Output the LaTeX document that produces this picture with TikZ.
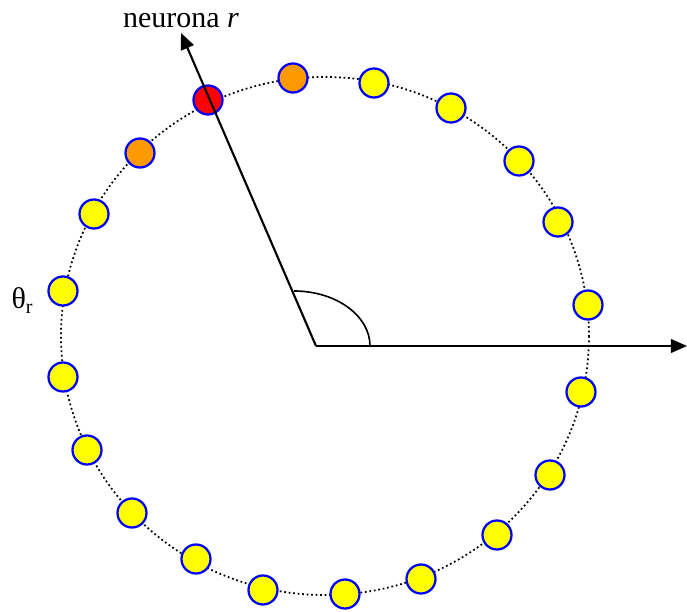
\documentclass[tikz,border=0pt]{standalone}
\usepackage{fontspec}
\setmainfont{Liberation Serif}
\usetikzlibrary{arrows.meta}
\definecolor{nyellow}{RGB}{255,255,0}
\definecolor{norange}{RGB}{255,153,0}
\definecolor{nred}{RGB}{255,0,0}
\definecolor{nblue}{RGB}{0,0,255}
\tikzset{
  neuron/.style={circle, draw=nblue, line width=0.9pt, minimum size=11.6pt, inner sep=0pt},
  neuronidle/.style={neuron, fill=nyellow},
  neuronnear/.style={neuron, fill=norange},
  neuronwin/.style={neuron, fill=nred},
  ringline/.style={line width=0.7pt, dash pattern=on 0.7pt off 1.1pt},
  axisarrow/.style={-{Triangle[length=6.5pt,width=5.5pt]}, line width=0.85pt},
  anglearc/.style={line width=0.65pt},
  lbl/.style={font=\fontsize{12pt}{14pt}\selectfont, inner sep=0pt}
}
\begin{document}
\begin{tikzpicture}[x=0.4pt, y=-0.4pt]
\useasboundingbox (0,0) rectangle (687,612);
\draw[ringline] (325,336) ellipse [x radius=264, y radius=259];
\node[neuronnear] (n1) at (293,78) {};
\node[neuronidle] (n2) at (374,83) {};
\node[neuronidle] (n3) at (451,108) {};
\node[neuronidle] (n4) at (519,161) {};
\node[neuronidle] (n5) at (558,222) {};
\node[neuronidle] (n6) at (588,305) {};
\node[neuronidle] (n7) at (581,392) {};
\node[neuronidle] (n8) at (550,475) {};
\node[neuronidle] (n9) at (497,535) {};
\node[neuronidle] (n10) at (421,579) {};
\node[neuronidle] (n11) at (345,594) {};
\node[neuronidle] (n12) at (263,590) {};
\node[neuronidle] (n13) at (196,559) {};
\node[neuronidle] (n14) at (132,513) {};
\node[neuronidle] (n15) at (87,450) {};
\node[neuronidle] (n16) at (63,377) {};
\node[neuronidle] (n17) at (63,291) {};
\node[neuronidle] (n18) at (94,214) {};
\node[neuronnear] (n19) at (140,153) {};
\node[neuronwin] (n20) at (208,100) {};
\coordinate (origin) at (316,346);
\coordinate (xtip) at (687,346);
\coordinate (rtip) at (181,33);
\draw[axisarrow] (origin) -- (xtip);
\draw[axisarrow] (origin) -- (rtip);
\draw[anglearc] (370,346) arc[start angle=0, end angle=90, x radius=30.4pt, y radius=22pt];
\node[lbl, anchor=base] (rlabel) at (181,28) {neurona \textit{r}};
\node[lbl, anchor=base west] (thetalabel) at (11,309) {θ\textsubscript{r}};
\end{tikzpicture}
\end{document}
